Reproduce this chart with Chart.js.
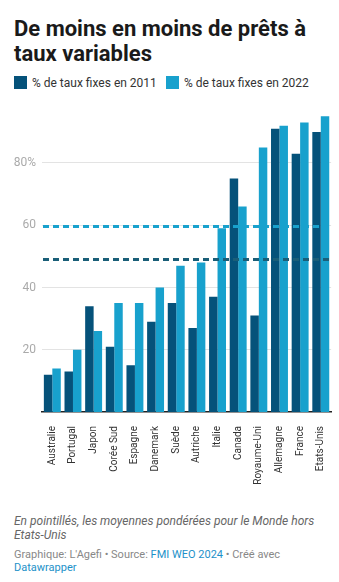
<!DOCTYPE html>
<html lang="fr">
<head>
<meta charset="utf-8">
<script src="https://cdn.jsdelivr.net/npm/chart.js@4"></script>
<style>
  body { margin: 0; background: #fff; font-family: Roboto, sans-serif; width: 339px; height: 582px; position: relative; overflow: hidden; }
  h1 { position: absolute; left: 14px; top: 16px; margin: 0; font-size: 22px; line-height: 25px; font-weight: 700; color: #1a1a1a; width: 320px; }
  .legende { position: absolute; top: 76px; left: 14px; font-size: 12px; color: #333; }
  .legende span { position: absolute; white-space: nowrap; top: 0; }
  .carre { display: inline-block; width: 13px; height: 13px; vertical-align: -2px; margin-right: 5px; }
  #zone { position: absolute; left: 0; top: 100px; width: 339px; height: 400px; }
  .note { position: absolute; left: 14px; top: 515px; width: 320px; font-size: 12px; line-height: 13.5px; font-style: italic; color: #666; }
  .source { position: absolute; left: 14px; top: 548px; width: 320px; font-size: 11px; line-height: 13px; color: #888; }
  .source a { color: #1d91c9; text-decoration: none; }
</style>
</head>
<body>
<h1>De moins en moins de prêts à taux variables</h1>
<div class="legende">
  <span style="left:0"><i class="carre" style="background:#05527a"></i>% de taux fixes en 2011</span>
  <span style="left:152px"><i class="carre" style="background:#18a1cd"></i>% de taux fixes en 2022</span>
</div>
<div id="zone"><canvas id="grafico"></canvas></div>
<div class="note">En pointillés, les moyennes pondérées pour le Monde hors Etats-Unis</div>
<div class="source">Graphique: L'Agefi • Source: <a>FMI WEO 2024</a> • Créé avec <a>Datawrapper</a></div>
<script>
const pays = ["Australie", "Portugal", "Japon", "Corée Sud", "Espagne", "Danemark", "Suède", "Autriche", "Italie", "Canada", "Royaume-Uni", "Allemagne", "France", "Etats-Unis"];
const fixes2011 = [12, 13, 34, 21, 15, 29, 35, 27, 37, 75, 31, 91, 83, 90];
const fixes2022 = [14, 20, 26, 35, 35, 40, 47, 48, 59, 66, 85, 92, 93, 95];
const moyenne2011 = 49;
const moyenne2022 = 59.6;
const ticksY = [20, 40, 60, 80];

const canvasGrafico = document.getElementById("grafico");

// lignes pointillées des moyennes, par-dessus les barres
const pointilles = {
  id: "pointilles",
  afterDatasetsDraw(chart) {
    const { ctx, chartArea, scales } = chart;
    const lignes = [
      { valeur: moyenne2022, couleur: "#18a1cd" },
      { valeur: moyenne2011, couleur: "#1a5e78" },
    ];
    ctx.save();
    ctx.lineWidth = 3;
    ctx.setLineDash([6, 4]);
    lignes.forEach((l) => {
      const y = scales.y.getPixelForValue(l.valeur);
      ctx.strokeStyle = l.couleur;
      ctx.beginPath();
      ctx.moveTo(chartArea.left + 1, y);
      ctx.lineTo(chartArea.right, y);
      ctx.stroke();
    });
    ctx.restore();
  },
};

const config = {
  type: "bar",
  data: {
    labels: pays,
    datasets: [
      { label: "% de taux fixes en 2011", data: fixes2011, backgroundColor: "#05527a" },
      { label: "% de taux fixes en 2022", data: fixes2022, backgroundColor: "#18a1cd" },
    ],
  },
  options: {
    responsive: true,
    maintainAspectRatio: false,
    animation: false,
    layout: { padding: { top: 4, right: 6, left: 0, bottom: 0 } },
    datasets: { bar: { categoryPercentage: 0.82, barPercentage: 1 } },
    plugins: { legend: { display: false }, tooltip: { enabled: false } },
    scales: {
      x: {
        grid: { display: false },
        border: { color: "#222", width: 1.5 },
        ticks: {
          minRotation: 90,
          maxRotation: 90,
          autoSkip: false,
          padding: 6,
          color: "#333",
          font: { family: "Roboto", size: 10 },
        },
        afterFit(scale) { scale.height = 88; },
      },
      y: {
        min: 0,
        max: 96,
        afterBuildTicks(scale) { scale.ticks = ticksY.map((v) => ({ value: v })); },
        grid: { color: "#e3e3e3", drawTicks: false },
        border: { display: false },
        ticks: {
          padding: 6,
          color: "#aaa",
          font: { family: "Roboto", size: 12 },
          callback: (v) => (v === 80 ? v + "%" : v),
        },
        afterFit(scale) { scale.width = 42; },
      },
    },
  },
  plugins: [pointilles],
};

window.miGrafico = new Chart(canvasGrafico, config);
</script>
</body>
</html>
